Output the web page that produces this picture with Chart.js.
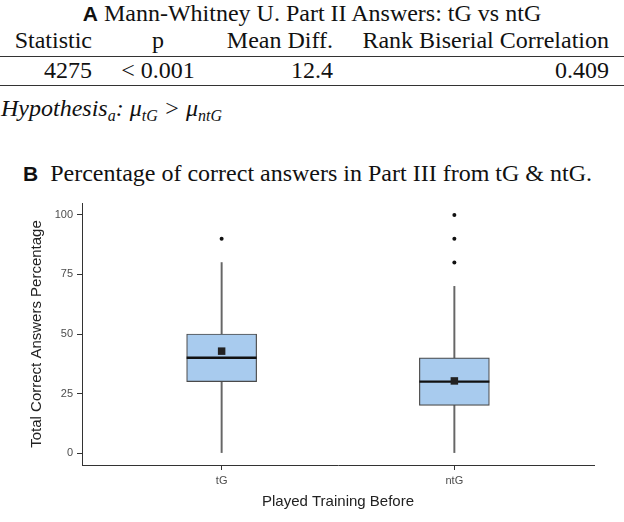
<!DOCTYPE html>
<html>
<head>
<meta charset="utf-8">
<script src="https://cdn.jsdelivr.net/npm/chart.js@4.4.1/dist/chart.umd.min.js"></script>
<style>
  body { margin: 0; background: #fff; }
  #page { position: relative; width: 624px; height: 522px; overflow: hidden; font-family: "Liberation Serif", "Times New Roman", serif; color: #111; }
  .row { position: absolute; font-size: 24px; line-height: 28px; white-space: nowrap; }
  .lbl { position: absolute; font-family: "Liberation Sans", Arial, sans-serif; font-weight: bold; }
  .rule { position: absolute; left: 0; width: 624px; height: 1.3px; background: #333; }
  sub { font-size: 16px; vertical-align: -5px; line-height: 0; }
  #chartBox { position: absolute; left: 0; top: 190px; width: 624px; height: 332px; }
</style>
</head>
<body>
<div id="page">
  <div class="row" style="top:-1px; left:0; width:624px; text-align:center;">
    <span style="font-family:'Liberation Sans',Arial,sans-serif; font-weight:bold; font-size:21px;">A</span>&nbsp;Mann-Whitney U. Part II Answers: tG vs ntG
  </div>
  <div class="row" style="top:26px; right:532px;">Statistic</div>
  <div class="row" style="top:26px; left:158px; transform:translateX(-50%);">p</div>
  <div class="row" style="top:26px; right:291px;">Mean Diff.</div>
  <div class="row" style="top:26px; right:15px;">Rank Biserial Correlation</div>
  <div class="rule" style="top:56px;"></div>
  <div class="row" style="top:56px; right:532px;">4275</div>
  <div class="row" style="top:56px; left:158px; transform:translateX(-50%);">&lt; 0.001</div>
  <div class="row" style="top:56px; right:291px;">12.4</div>
  <div class="row" style="top:56px; right:15px;">0.409</div>
  <div class="rule" style="top:85px;"></div>
  <div class="row" style="top:94px; left:1px; font-style:italic;">Hypothesis<sub>a</sub>: μ<sub>tG</sub> &gt; μ<sub>ntG</sub></div>
  <div class="row" style="top:159px; left:23px;">
    <span style="font-family:'Liberation Sans',Arial,sans-serif; font-weight:bold; font-size:21px;">B</span>&nbsp;&nbsp;Percentage of correct answers in Part III from tG &amp; ntG.
  </div>
  <div id="chartBox"><canvas id="boxChart"></canvas></div>
</div>
<script>
const groups = ["tG", "ntG"]
const whiskerLow = [0, 0]
const q1 = [30, 20]
const medians = [40, 30]
const q3 = [50, 40]
const whiskerHigh = [80, 70]
const means = [42.8, 30.3]
const outliers = [[90], [80, 90, 100]]
const yTicks = [0, 25, 50, 75, 100]

const boxFill = "#a8cbee"
const boxLine = "#4a4a4a"

// groups sit at 1, 2 on a linear axis so the ggplot-like padding can be kept
const whiskerData = groups.map((g, i) => ({x: i + 1, y: [whiskerLow[i], whiskerHigh[i]]}))
const boxData = groups.map((g, i) => ({x: i + 1, y: [q1[i], q3[i]]}))
const meanData = groups.map((g, i) => ({x: i + 1, y: means[i]}))
const outlierData = []
outliers.forEach((list, i) => list.forEach(v => outlierData.push({x: i + 1, y: v})))

const medianPlugin = {
    id: "medianLines",
    afterDatasetDraw(chart, args) {
        if (args.index !== 1) return
        const ctx = chart.ctx
        const yScale = chart.scales.y
        ctx.save()
        ctx.strokeStyle = "#111"
        ctx.lineWidth = 2.4
        args.meta.data.forEach((bar, i) => {
            const y = yScale.getPixelForValue(medians[i])
            ctx.beginPath()
            ctx.moveTo(bar.x - bar.width / 2, y)
            ctx.lineTo(bar.x + bar.width / 2, y)
            ctx.stroke()
        })
        ctx.restore()
    }
}

new Chart(document.getElementById("boxChart"), {
    type: "bar",
    data: {
        datasets: [
            {
                label: "whisker",
                data: whiskerData,
                backgroundColor: "#666",
                barThickness: 1.3,
                grouped: false,
                order: 4
            },
            {
                label: "box",
                data: boxData,
                backgroundColor: boxFill,
                borderColor: boxLine,
                borderWidth: 1.2,
                borderSkipped: false,
                barThickness: 70,
                grouped: false,
                order: 3
            },
            {
                type: "scatter",
                label: "mean",
                data: meanData,
                pointStyle: "rect",
                pointRadius: 5.3,
                backgroundColor: "#222",
                borderColor: "#222",
                borderWidth: 0,
                order: 1
            },
            {
                type: "scatter",
                label: "outliers",
                data: outlierData,
                pointStyle: "circle",
                pointRadius: 2,
                backgroundColor: "#111",
                borderWidth: 0,
                order: 1
            }
        ]
    },
    plugins: [medianPlugin],
    options: {
        responsive: true,
        maintainAspectRatio: false,
        animation: false,
        layout: {padding: {top: 13, right: 30, left: 0, bottom: 0}},
        plugins: {legend: {display: false}, tooltip: {enabled: false}},
        scales: {
            x: {
                type: "linear",
                min: 0.4,
                max: 2.6,
                offset: false,
                afterBuildTicks: (axis) => { axis.ticks = groups.map((g, i) => ({value: i + 1})) },
                afterFit: (axis) => { axis.height = 57 },
                ticks: {
                    callback: (v) => groups[v - 1],
                    color: "#4d4d4d",
                    font: {family: "Liberation Sans", size: 11},
                    padding: 4,
                    maxRotation: 0
                },
                grid: {drawOnChartArea: false, drawTicks: true, tickLength: 5, tickColor: "#333", offset: false},
                border: {display: true, color: "#333", width: 1},
                title: {
                    display: true,
                    text: "Played Training Before",
                    color: "#222",
                    font: {family: "Liberation Sans", size: 15},
                    padding: {top: 0, bottom: 11}
                }
            },
            y: {
                min: -5,
                max: 105,
                afterBuildTicks: (axis) => { axis.ticks = yTicks.map(v => ({value: v})) },
                afterFit: (axis) => { axis.width = 82 },
                ticks: {
                    color: "#4d4d4d",
                    font: {family: "Liberation Sans", size: 11},
                    padding: 4
                },
                grid: {drawOnChartArea: false, drawTicks: true, tickLength: 5, tickColor: "#333"},
                border: {display: true, color: "#333", width: 1},
                title: {
                    display: true,
                    text: "Total Correct Answers Percentage",
                    color: "#222",
                    font: {family: "Liberation Sans", size: 15},
                    padding: {top: 28, bottom: 0}
                }
            }
        }
    }
})
</script>
</body>
</html>
